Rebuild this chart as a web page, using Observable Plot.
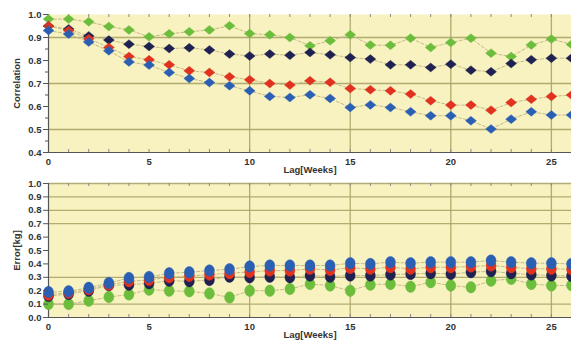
<!DOCTYPE html>
<html><head><meta charset="utf-8">
<script src="https://cdn.jsdelivr.net/npm/d3@7"></script>
<script src="https://cdn.jsdelivr.net/npm/@observablehq/plot@0.6"></script>
<style>
body{margin:0;background:#fff;}
#chart svg{display:block;}
</style></head><body><div id="chart"></div>
<script>
const weeks = [0,1,2,3,4,5,6,7,8,9,10,11,12,13,14,15,16,17,18,19,20,21,22,23,24,25,26];
const xTicks = [0,5,10,15,20,25];
const xGrid = [10,15,20,25];

// Top panel: correlation
const corrGreen = [0.98,0.98,0.968,0.948,0.933,0.903,0.916,0.925,0.933,0.951,0.917,0.912,0.90,0.864,0.886,0.912,0.867,0.866,0.897,0.857,0.878,0.897,0.832,0.817,0.867,0.893,0.87];
const corrNavy  = [0.95,0.937,0.907,0.889,0.871,0.861,0.852,0.855,0.846,0.828,0.82,0.828,0.823,0.835,0.825,0.813,0.806,0.781,0.781,0.77,0.784,0.758,0.751,0.787,0.803,0.81,0.81];
const corrRed   = [0.95,0.93,0.895,0.857,0.817,0.803,0.781,0.755,0.748,0.729,0.716,0.70,0.693,0.712,0.705,0.678,0.673,0.668,0.654,0.625,0.606,0.606,0.584,0.617,0.632,0.644,0.65];
const corrBlue  = [0.93,0.915,0.88,0.842,0.794,0.78,0.748,0.722,0.704,0.69,0.668,0.644,0.639,0.651,0.635,0.596,0.607,0.596,0.577,0.56,0.56,0.538,0.502,0.545,0.577,0.563,0.563];
const corrTicks = [0.4,0.5,0.6,0.7,0.8,0.9,1.0];
const corrMinor = [0.45,0.55,0.65,0.75,0.85,0.95];
const corrGrid = [0.5,0.7,0.9];

// Bottom panel: error
const errBlue  = [0.19,0.195,0.222,0.258,0.295,0.303,0.33,0.338,0.35,0.36,0.38,0.388,0.388,0.388,0.388,0.405,0.40,0.413,0.405,0.413,0.413,0.413,0.425,0.413,0.405,0.405,0.40];
const errRed   = [0.17,0.185,0.21,0.245,0.27,0.28,0.30,0.31,0.32,0.33,0.34,0.35,0.35,0.363,0.355,0.37,0.363,0.375,0.363,0.375,0.375,0.38,0.388,0.375,0.363,0.363,0.36];
const errNavy  = [0.16,0.175,0.2,0.24,0.245,0.255,0.275,0.27,0.28,0.305,0.30,0.305,0.30,0.313,0.305,0.313,0.313,0.32,0.325,0.33,0.325,0.338,0.345,0.33,0.32,0.313,0.31];
const errGreen = [0.10,0.10,0.125,0.153,0.172,0.208,0.20,0.195,0.18,0.15,0.2,0.2,0.213,0.25,0.238,0.2,0.245,0.25,0.23,0.263,0.238,0.225,0.275,0.288,0.25,0.238,0.24];
const errTicks = [0,0.1,0.2,0.3,0.4,0.5,0.6,0.7,0.8,0.9,1.0];
const errGrid = [0.1,0.3,0.7,0.8,0.9,1.0];

const colors = {green:"#6cbd3c", navy:"#1f2150", red:"#e0321f", blue:"#2a5fb4"};
const bg = "#f7f2c0";
const gridColor = "#aaa468";

const wideDiamond = {
  draw(ctx, size) {
    const r = Math.sqrt(size / Math.PI);
    const w = r * 1.1, h = r * 0.9;
    ctx.moveTo(0, -h); ctx.lineTo(w, 0); ctx.lineTo(0, h); ctx.lineTo(-w, 0); ctx.closePath();
  }
};
const tallEllipse = {
  draw(ctx, size) {
    const r = Math.sqrt(size / Math.PI);
    const w = r, h = r * 1.15, k = 0.5523;
    ctx.moveTo(0, -h);
    ctx.bezierCurveTo(k * w, -h, w, -k * h, w, 0);
    ctx.bezierCurveTo(w, k * h, k * w, h, 0, h);
    ctx.bezierCurveTo(-k * w, h, -w, k * h, -w, 0);
    ctx.bezierCurveTo(-w, -k * h, -k * w, -h, 0, -h);
    ctx.closePath();
  }
};

function rows(vals, key) { return weeks.map((w, i) => ({week: w, value: vals[i], series: key})); }

function panel({series, yDomain, yTicks, yMinor, yGrid, yLabel, height, marginTop, symbol, r}) {
  const innerH = height - marginTop - 26;
  const marks = [
    Plot.frame({fill: bg, stroke: null}),
    Plot.gridY(yGrid, {stroke: gridColor, strokeOpacity: 0.9, strokeWidth: 1.3}),
    Plot.gridX(xGrid, {stroke: gridColor, strokeOpacity: 0.9, strokeWidth: 1.3}),
    Plot.ruleX(weeks, {stroke: "#888", insetBottom: innerH - 3}),
    Plot.ruleX(weeks, {stroke: "#888", insetTop: innerH - 3}),
    Plot.ruleX([0], {stroke: "#555", strokeWidth: 1.2}),
    Plot.ruleY([yDomain[0]], {stroke: "#555", strokeWidth: 1.2}),
  ];
  for (const [key, vals] of series) {
    marks.push(Plot.line(rows(vals, key), {x: "week", y: "value", stroke: "#c7bb8a", strokeWidth: 1, strokeDasharray: "3,2"}));
  }
  for (const [key, vals] of series) {
    marks.push(Plot.dot(rows(vals, key), {x: "week", y: "value", fill: colors[key], r, symbol, stroke: colors[key], strokeOpacity: 0.35, strokeWidth: 1}));
  }
  if (yMinor) marks.push(Plot.axisY(yMinor, {tickSize: 3, tickFormat: () => "", label: null, stroke: "#555"}));
  marks.push(Plot.axisY(yTicks, {tickSize: 5, tickPadding: 2, tickFormat: d => d.toFixed(1), label: yLabel, labelAnchor: "center", labelArrow: "none", labelOffset: 35, fontWeight: "bold", stroke: "#555"}));
  marks.push(Plot.axisX(xTicks, {tickSize: 0, tickPadding: 6, label: "Lag[Weeks]", labelAnchor: "center", labelArrow: "none", labelOffset: 20, fontWeight: "bold"}));
  return Plot.plot({
    width: 571, height, marginTop, marginBottom: 26, marginLeft: 48, marginRight: 0,
    x: {domain: [0, 26]},
    y: {domain: yDomain},
    style: {fontFamily: "'Liberation Sans', Arial, sans-serif", fontSize: "9.5px", color: "#333", background: "#fff"},
    marks
  });
}

const topPanel = panel({
  series: [["green", corrGreen], ["navy", corrNavy], ["red", corrRed], ["blue", corrBlue]],
  yDomain: [0.4, 1.0], yTicks: corrTicks, yMinor: corrMinor, yGrid: corrGrid, yLabel: "Correlation",
  height: 178, marginTop: 14, symbol: wideDiamond, r: 5
});
const bottomPanel = panel({
  series: [["green", errGreen], ["navy", errNavy], ["red", errRed], ["blue", errBlue]],
  yDomain: [0, 1.0], yTicks: errTicks, yMinor: null, yGrid: errGrid, yLabel: "Error[kg]",
  height: 165, marginTop: 5, symbol: tallEllipse, r: 5
});
document.getElementById("chart").append(topPanel, bottomPanel);
</script></body></html>
